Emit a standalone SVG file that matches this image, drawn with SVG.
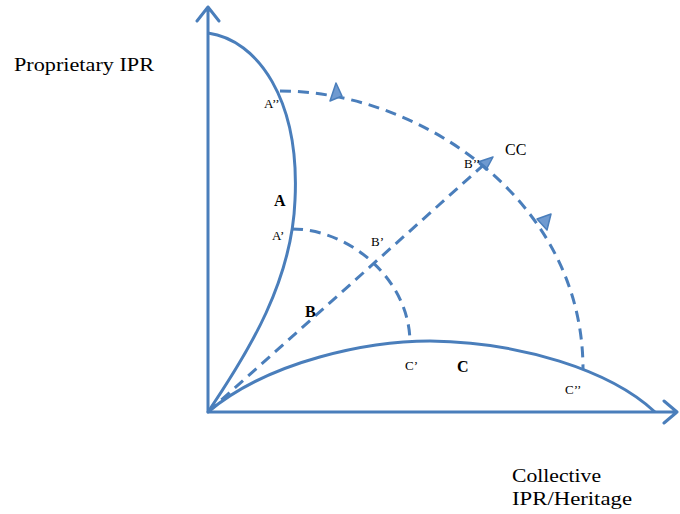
<svg xmlns="http://www.w3.org/2000/svg" width="680" height="514" viewBox="0 0 680 514">
<style>
.ax{fill:none;stroke:#4a7ebb;stroke-width:3;stroke-linecap:round;stroke-linejoin:round}
.cv{fill:none;stroke:#4a7ebb;stroke-width:3}
.ds{fill:none;stroke:#4a7ebb;stroke-width:3;stroke-dasharray:11 7}
.ah{fill:#6f9ad0;stroke:#4a7ebb;stroke-width:1.5;stroke-linejoin:round}
.t{font-family:"Liberation Serif",serif;fill:#000}
.lb{font-size:19px}
.sm{font-size:13px}
.bd{font-size:16px;font-weight:bold}
</style>
<rect width="680" height="514" fill="#fff"/>
<g id="axes">
<path class="ax" d="M208,412 V7 M197,21 L208,7 L219,21"/>
<path class="ax" d="M208,412 H677 M664,401 L677,412 L664,423"/>
</g>
<g id="curve-A"><path class="cv" d="M208,33 C258,40 300,100 295,200 C292,280 250,350 208,412"/></g>
<g id="curve-C"><path class="cv" d="M208,412 C270,360 370,341 430,341 C520,342 610,370 655,412"/></g>
<g id="connectors">
<path class="ds" d="M208,412 L488,161"/>
<polygon class="ah" points="493,157 478,162 486,170"/>
<path class="ds" d="M292,229 C350,229 410,280 410,343"/>
<path class="ds" d="M280,91 C420,91 583,200 583,369"/>
<polygon class="ah" points="342,96 336,83 330,101"/>
<polygon class="ah" points="537,219 551,214 547,230"/>
</g>
<g id="labels">
<text class="t lb" x="14" y="71" textLength="140" lengthAdjust="spacingAndGlyphs">Proprietary IPR</text>
<text class="t lb" x="512" y="482" textLength="89" lengthAdjust="spacingAndGlyphs">Collective</text>
<text class="t lb" x="512" y="505" textLength="120" lengthAdjust="spacingAndGlyphs">IPR/Heritage</text>
<text class="t sm" x="264" y="108">A’’</text>
<text class="t bd" x="274" y="206">A</text>
<text class="t sm" x="272" y="240">A’</text>
<text class="t sm" x="371" y="246">B’</text>
<text class="t bd" x="305" y="317">B</text>
<text class="t sm" x="464" y="168">B’’</text>
<text class="t" x="505" y="155" font-size="16">CC</text>
<text class="t sm" x="405" y="370">C’</text>
<text class="t bd" x="457" y="372">C</text>
<text class="t sm" x="565" y="394">C’’</text>
</g>
</svg>
